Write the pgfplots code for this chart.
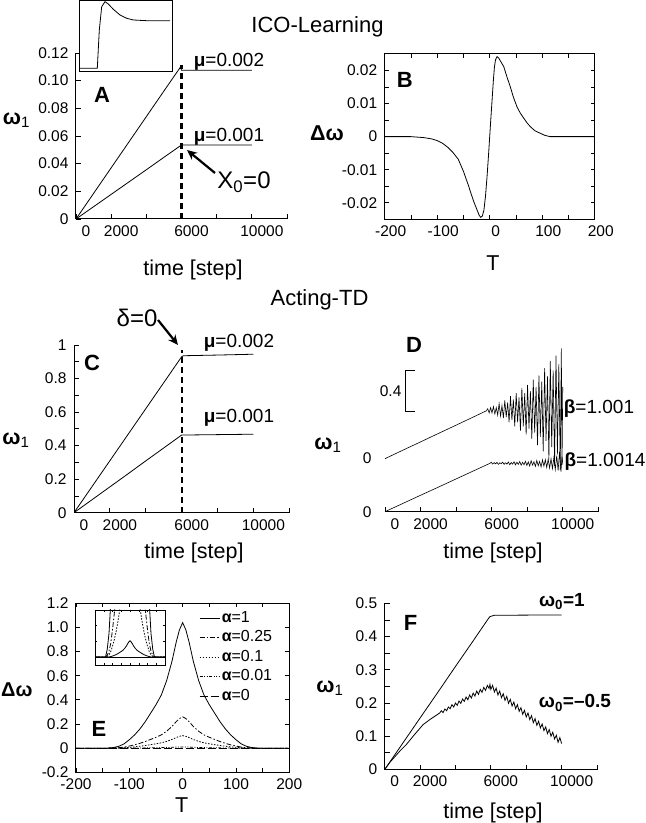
\documentclass[border=0pt]{standalone}
\usepackage{fontspec}
\setmainfont{Liberation Sans}
\usepackage{pgfplots}
\pgfplotsset{compat=1.18}
\usetikzlibrary{arrows.meta}
\newcommand{\tl}{\fontsize{15.5}{17}\selectfont}
\newcommand{\al}{\fontsize{21.5}{23}\selectfont}
\newcommand{\ttl}{\fontsize{22}{24}\selectfont}
\newcommand{\pl}{\fontsize{22}{24}\selectfont\bfseries}
\newcommand{\an}{\fontsize{19}{21}\selectfont}
\newcommand{\bigan}{\fontsize{24}{26}\selectfont}
\pgfplotsset{
  base/.style={scale only axis, anchor=south west, scaled ticks=false,
    axis line style={line width=1pt}, tick align=inside, major tick length=5pt,
    every tick/.style={black,line width=0.8pt},
    tick label style={font=\tl},
    xticklabel style={yshift=-3pt},
    yticklabel style={xshift=-4pt}},
  tshift/.style={xticklabel style={xshift=10pt}},
  cv/.style={black,line width=0.8pt,mark=none},
  s25/.style={cv,dash pattern=on 5pt off 2pt on 1.5pt off 2pt},
  s10/.style={cv,dash pattern=on 1.5pt off 1.5pt},
  s01/.style={cv,dash pattern=on 3pt off 1.5pt on 1pt off 1.5pt on 1pt off 1.5pt},
  s00/.style={cv,dash pattern=on 8pt off 3pt},
}
\pgfplotstableread{
T v
-200 0
-140 0
-130 0.005
-120 0.015
-110 0.035
-100 0.07
-90 0.11
-80 0.16
-70 0.22
-60 0.29
-50 0.36
-40 0.44
-30 0.56
-20 0.72
-12 0.88
-6 0.98
0 1.04
6 0.98
12 0.88
20 0.72
30 0.56
40 0.44
50 0.36
60 0.29
70 0.22
80 0.16
90 0.11
100 0.07
110 0.035
120 0.015
130 0.005
140 0
200 0
}\aone
\pgfplotstableread{
T v
-200 0
-140 0
-130 0.00125
-120 0.00375
-110 0.00875
-100 0.0175
-90 0.0275
-80 0.04
-70 0.055
-60 0.0725
-50 0.09
-40 0.11
-30 0.14
-20 0.18
-12 0.22
-6 0.245
0 0.26
6 0.245
12 0.22
20 0.18
30 0.14
40 0.11
50 0.09
60 0.0725
70 0.055
80 0.04
90 0.0275
100 0.0175
110 0.00875
120 0.00375
130 0.00125
140 0
200 0
}\atwo
\pgfplotstableread{
T v
-200 0
-140 0
-130 0.0005
-120 0.0015
-110 0.0035
-100 0.007
-90 0.011
-80 0.016
-70 0.022
-60 0.029
-50 0.036
-40 0.044
-30 0.056
-20 0.072
-12 0.088
-6 0.098
0 0.104
6 0.098
12 0.088
20 0.072
30 0.056
40 0.044
50 0.036
60 0.029
70 0.022
80 0.016
90 0.011
100 0.007
110 0.0035
120 0.0015
130 0.0005
140 0
200 0
}\athree
\pgfplotstableread{
T v
-200 0
-140 0
-130 0.00005
-120 0.00015
-110 0.00035
-100 0.0007
-90 0.0011
-80 0.0016
-70 0.0022
-60 0.0029
-50 0.0036
-40 0.0044
-30 0.0056
-20 0.0072
-12 0.0088
-6 0.0098
0 0.0104
6 0.0098
12 0.0088
20 0.0072
30 0.0056
40 0.0044
50 0.0036
60 0.0029
70 0.0022
80 0.0016
90 0.0011
100 0.0007
110 0.00035
120 0.00015
130 0.00005
140 0
200 0
}\afour
\begin{document}
\begin{tikzpicture}
\node[font=\ttl] at (317.5pt,796pt) {ICO-Learning};
\node[font=\ttl] at (319.5pt,523pt) {Acting-TD};

% ---------------- Panel A
\begin{axis}[base, tshift, axis lines*=left, at={(76pt,604pt)}, width=211pt, height=166pt,
  xmin=0, xmax=12000, ymin=0, ymax=0.12,
  xtick={0,2000,4000,6000,8000,10000,12000}, xticklabels={0,2000,,6000,,10000,},
  ytick={0,0.02,0.04,0.06,0.08,0.1,0.12}, yticklabels={0,0.02,0.04,0.06,0.08,0.10,0.12}]
\addplot[cv] coordinates {(0,0) (1000,0.0185) (2000,0.037) (3000,0.0555) (4000,0.074) (5000,0.0925) (5950,0.110) (6000,0.1075) (10000,0.1075)};
\addplot[cv] coordinates {(0,0) (1000,0.0089) (2000,0.0178) (3000,0.0267) (4000,0.0356) (5000,0.0446) (6000,0.0535) (10000,0.0535)};
\addplot[black, line width=2.2pt, dash pattern=on 6pt off 4pt] coordinates {(6000,0) (6000,0.111)};
\end{axis}
% inset A
\begin{axis}[scale only axis, anchor=south west, at={(79pt,751pt)}, width=93pt, height=71pt,
  xmin=79, xmax=172, ymin=0, ymax=71, xtick=\empty, ytick=\empty,
  axis line style={line width=1pt}, axis background/.style={fill=white}]
\addplot[cv] coordinates {(80,3.7) (97.3,3.7) (99.3,42) (101.7,65.3) (105,70.3) (108.3,68) (113.3,62.7) (120,57) (126.7,53.7) (133.3,52) (146.7,51.3) (170,51.3)};
\end{axis}
\node[font=\pl] at (102pt,728pt) {A};
\node[font=\al] at (16.5pt,703pt) {\textbf{ω}\textsubscript{1}};
\node[font=\al] at (193pt,553pt) {time [step]};
\node[font=\an] at (229pt,761pt) {\textbf{μ}=0.002};
\node[font=\an] at (229pt,686pt) {\textbf{μ}=0.001};
\node[font=\bigan] at (244pt,641pt) {X\textsubscript{0}=0};
\draw[line width=2.2pt, -{Stealth[length=10pt,width=9pt]}] (215pt,650pt) -- (187pt,673pt);

% ---------------- Panel B
\begin{axis}[base, at={(384.7pt,603.7pt)}, width=210pt, height=165.3pt,
  xmin=-200, xmax=200, ymin=-0.025, ymax=0.025, major tick length=4pt,
  xtick={-200,-150,-100,-50,0,50,100,150,200}, xticklabels={-200,,-100,,0,,100,,200},
  ytick={-0.02,-0.015,-0.01,-0.005,0,0.005,0.01,0.015,0.02}, yticklabels={-0.02,,-0.01,,0,,0.01,,0.02},
  xticklabel style={xshift=6pt}]
\addplot[cv] coordinates {(-200,0) (-150,0) (-125,-0.0003) (-110,-0.0007) (-100,-0.0012) (-90,-0.002) (-80,-0.0032) (-70,-0.0048) (-60,-0.0068) (-50,-0.0105) (-40,-0.015) (-35,-0.0175) (-30,-0.0198) (-25,-0.0218) (-20,-0.0238) (-17,-0.0244) (-14,-0.024) (-11,-0.0222) (-8,-0.018) (-5,-0.012) (-2,-0.005) (0,0) (2,0.005) (4.5,0.011) (7,0.017) (9,0.021) (11,0.0232) (14,0.0242) (17,0.0238) (20,0.023) (26.7,0.0212) (33,0.018) (39.4,0.015) (45,0.012) (52,0.009) (58,0.0072) (64.8,0.0056) (71,0.0042) (77.5,0.003) (86,0.0018) (96.5,0.001) (105,0.0004) (115,0) (200,0)};
\end{axis}
\node[font=\pl] at (404.7pt,743pt) {B};
\node[font=\al] at (327pt,690pt) {\textbf{Δω}};
\node[font=\al] at (493pt,560pt) {T};

% ---------------- Panel C
\begin{axis}[base, tshift, axis lines*=left, at={(74pt,310.3pt)}, width=215.3pt, height=167.7pt,
  xmin=0, xmax=12000, ymin=0, ymax=1,
  xtick={0,2000,4000,6000,8000,10000,12000}, xticklabels={0,2000,,6000,,10000,},
  ytick={0,0.1,0.2,0.3,0.4,0.5,0.6,0.7,0.8,0.9,1}, yticklabels={0,,0.2,,0.4,,0.6,,0.8,,1}]
\addplot[cv] coordinates {(0,0) (1000,0.155) (2000,0.31) (3000,0.465) (4000,0.62) (5000,0.775) (6000,0.93) (6100,0.936) (8000,0.94) (10000,0.945)};
\addplot[cv] coordinates {(0,0) (1000,0.077) (2000,0.154) (3000,0.231) (4000,0.309) (5000,0.386) (6000,0.463) (10000,0.468)};
\addplot[black, line width=2.2pt, dash pattern=on 6pt off 4pt] coordinates {(6000,0) (6000,0.97)};
\end{axis}
\node[font=\pl] at (92pt,460pt) {C};
\node[font=\al] at (16pt,383pt) {\textbf{ω}\textsubscript{1}};
\node[font=\al] at (194pt,269.7pt) {time [step]};
\node[font=\bigan] at (137pt,505pt) {δ=0};
\draw[line width=2.2pt, -{Stealth[length=10pt,width=9pt]}] (158pt,503pt) -- (178pt,478pt);
\node[font=\an] at (239pt,480pt) {\textbf{μ}=0.002};
\node[font=\an] at (239pt,405pt) {\textbf{μ}=0.001};

% ---------------- Panel D
\begin{axis}[base, tshift, axis lines*=left, y axis line style={draw=none}, ytick style={draw=none},
  at={(385pt,311.3pt)}, width=213.3pt, height=171.6pt, clip=false,
  xmin=0, xmax=12000, ymin=0, ymax=1.65,
  xtick={0,2000,4000,6000,8000,10000,12000}, xticklabels={0,2000,,6000,,10000,},
  ytick={0,0.51}, yticklabels={0,0}, yticklabel style={xshift=-6pt}]
\addplot[cv, line width=0.6pt] coordinates {(0,0) (1000,0.079) (2000,0.158) (3000,0.236) (4000,0.315) (5000,0.394) (5900,0.465) (5980,0.475) (6060,0.458) (6140,0.472) (6220,0.460) (6300,0.474) (6380,0.455) (6460,0.470) (6540,0.462) (6620,0.476) (6700,0.456) (6780,0.471) (6860,0.458) (6940,0.478) (7020,0.452) (7100,0.473) (7180,0.457) (7260,0.480) (7340,0.450) (7420,0.476) (7500,0.455) (7580,0.482) (7660,0.447) (7740,0.475) (7820,0.452) (7900,0.485) (7980,0.445) (8060,0.478) (8140,0.440) (8220,0.490) (8300,0.448) (8380,0.480) (8460,0.436) (8540,0.492) (8620,0.442) (8700,0.484) (8780,0.430) (8860,0.498) (8940,0.438) (9020,0.500) (9100,0.425) (9180,0.505) (9260,0.420) (9340,0.510) (9420,0.415) (9500,0.520) (9580,0.405) (9660,0.540) (9740,0.395) (9820,0.577) (9900,0.385) (9960,0.530) (10000,0.465)};
\addplot[cv, line width=0.6pt] coordinates {(0,0.51) (1000,0.591) (2000,0.671) (3000,0.752) (4000,0.832) (5000,0.913) (5700,0.97) (5780,0.99) (5860,0.95) (5940,1.00) (6020,0.95) (6100,1.01) (6180,0.94) (6260,1.00) (6340,0.93) (6420,1.04) (6500,0.92) (6580,1.02) (6660,0.90) (6740,1.07) (6820,0.91) (6900,1.05) (6980,0.86) (7060,1.11) (7140,0.88) (7220,1.08) (7300,0.82) (7380,1.14) (7460,0.86) (7540,1.10) (7620,0.78) (7700,1.19) (7780,0.82) (7860,1.14) (7940,0.74) (8020,1.22) (8100,0.80) (8180,1.16) (8260,0.70) (8340,1.27) (8420,0.76) (8500,1.20) (8580,0.64) (8660,1.31) (8740,0.72) (8820,1.25) (8900,0.58) (8980,1.38) (9060,0.68) (9140,1.30) (9220,0.50) (9300,1.45) (9380,0.62) (9460,1.36) (9540,0.44) (9620,1.50) (9700,0.55) (9780,1.42) (9860,0.40) (9920,1.57) (9960,0.45) (10000,1.2)};
\draw[line width=0.8pt] (axis cs:1685,1.362) -- (axis cs:1163,1.362) -- (axis cs:1163,0.962) -- (axis cs:1685,0.962);
\node[anchor=east, font=\tl] at (axis cs:1120,1.162) {0.4};
\end{axis}
\node[font=\pl] at (414pt,478pt) {D};
\node[font=\al] at (328pt,378pt) {\textbf{ω}\textsubscript{1}};
\node[font=\al] at (493pt,270pt) {time [step]};
\node[font=\an] at (599pt,414.7pt) {\textbf{β}=1.001};
\node[font=\an] at (605pt,361.3pt) {\textbf{β}=1.0014};

% ---------------- Panel E
\begin{axis}[base, at={(76pt,50.7pt)}, width=213.3pt, height=169pt, major tick length=4pt,
  xmin=-200, xmax=200, ymin=-0.2, ymax=1.2,
  xtick={-200,-150,-100,-50,0,50,100,150,200}, xticklabels={-200,,-100,,0,,100,,200},
  ytick={-0.2,0,0.2,0.4,0.6,0.8,1,1.2}, yticklabels={-0.2,0,0.2,0.4,0.6,0.8,1.0,1.2},
  legend cell align=left,
  legend image code/.code={\draw[#1] (0pt,0pt) -- (20pt,0pt);},
  legend style={draw=none, fill=none, at={(0.577,0.969)}, anchor=north west, inner sep=0pt,
    font=\fontsize{16}{18}\selectfont, nodes={inner sep=1.7pt, text height=12pt, text depth=4pt}}]
\addplot[cv] table[x=T,y=v] {\aone};
\addlegendentry{\textbf{α}=1}
\addplot[s25] table[x=T,y=v] {\atwo};
\addlegendentry{\textbf{α}=0.25}
\addplot[s10] table[x=T,y=v] {\athree};
\addlegendentry{\textbf{α}=0.1}
\addplot[s01] table[x=T,y=v] {\afour};
\addlegendentry{\textbf{α}=0.01}
\addplot[s00] coordinates {(-200,0) (200,0)};
\addlegendentry{\textbf{α}=0}
\end{axis}
% inset E
\begin{axis}[scale only axis, anchor=south west, at={(95pt,158pt)}, width=70pt, height=55pt,
  scaled ticks=false,
  xmin=-200, xmax=200, ymin=-0.005, ymax=0.03, tick align=inside, major tick length=2pt,
  xtick={-150,-100,-50,0,50,100,150}, xticklabels={}, ytick={0,0.01,0.02}, yticklabels={},
  every tick/.style={black,line width=0.5pt},
  axis line style={line width=0.9pt}, axis background/.style={fill=white}]
\addplot[cv] table[x=T,y=v] {\aone};
\addplot[s25] table[x=T,y=v] {\atwo};
\addplot[s10] table[x=T,y=v] {\athree};
\addplot[cv] table[x=T,y=v] {\afour};
\addplot[cv, line width=1pt] coordinates {(-200,0) (200,0)};
\end{axis}
\node[font=\pl] at (99pt,94pt) {E};
\node[font=\fontsize{20}{22}\selectfont, anchor=west, inner sep=0.5pt] at (0.5pt,133pt) {\textbf{Δω}};
\node[font=\al] at (181.7pt,18pt) {T};

% ---------------- Panel F
\begin{axis}[base, tshift, axis lines*=left, at={(384.7pt,53.5pt)}, width=212.3pt, height=166.2pt,
  xmin=0, xmax=12000, ymin=0, ymax=0.5,
  xtick={0,2000,4000,6000,8000,10000,12000}, xticklabels={0,2000,,6000,,10000,},
  ytick={0,0.05,0.1,0.15,0.2,0.25,0.3,0.35,0.4,0.45,0.5}, yticklabels={0,,0.1,,0.2,,0.3,,0.4,,0.5}]
\addplot[cv] coordinates {(0,0) (1000,0.0775) (2000,0.155) (3000,0.232) (4000,0.31) (5000,0.387) (5860,0.454) (5950,0.460) (6200,0.464) (10000,0.465)};
\addplot[cv] coordinates {(0,0) (300,0.022) (600,0.040) (900,0.058) (1220,0.075) (1700,0.106) (2170,0.135) (2600,0.152) (3110,0.170) (3200,0.177) (3300,0.171) (3400,0.182) (3500,0.177) (3600,0.188) (3700,0.183) (3800,0.195) (3900,0.188) (4000,0.200) (4100,0.193) (4200,0.206) (4300,0.199) (4400,0.212) (4500,0.205) (4600,0.218) (4700,0.210) (4800,0.224) (4900,0.215) (5000,0.230) (5100,0.221) (5200,0.236) (5300,0.226) (5400,0.241) (5500,0.232) (5600,0.247) (5700,0.238) (5800,0.253) (5900,0.244) (5950,0.256) (6000,0.241) (6100,0.253) (6200,0.233) (6300,0.245) (6400,0.224) (6500,0.236) (6600,0.216) (6700,0.228) (6800,0.208) (6900,0.220) (7000,0.199) (7100,0.211) (7200,0.191) (7300,0.203) (7400,0.183) (7500,0.195) (7600,0.175) (7700,0.186) (7800,0.166) (7900,0.178) (8000,0.158) (8100,0.170) (8200,0.150) (8300,0.162) (8400,0.141) (8500,0.153) (8600,0.133) (8700,0.145) (8800,0.125) (8900,0.137) (9000,0.117) (9100,0.128) (9200,0.108) (9300,0.120) (9400,0.100) (9500,0.112) (9600,0.092) (9700,0.103) (9800,0.082) (9900,0.096) (10000,0.078)};
\end{axis}
\node[font=\pl] at (410.5pt,200.5pt) {F};
\node[font=\al] at (330pt,135pt) {\textbf{ω}\textsubscript{1}};
\node[font=\al] at (493pt,10pt) {time [step]};
\node[font=\an\bfseries] at (562pt,221.3pt) {ω\textsubscript{0}=1};
\node[font=\an\bfseries] at (575pt,120pt) {ω\textsubscript{0}=–0.5};

\pgfresetboundingbox
\path[use as bounding box] (0pt,0pt) rectangle (646pt,823pt);
\end{tikzpicture}
\end{document}
